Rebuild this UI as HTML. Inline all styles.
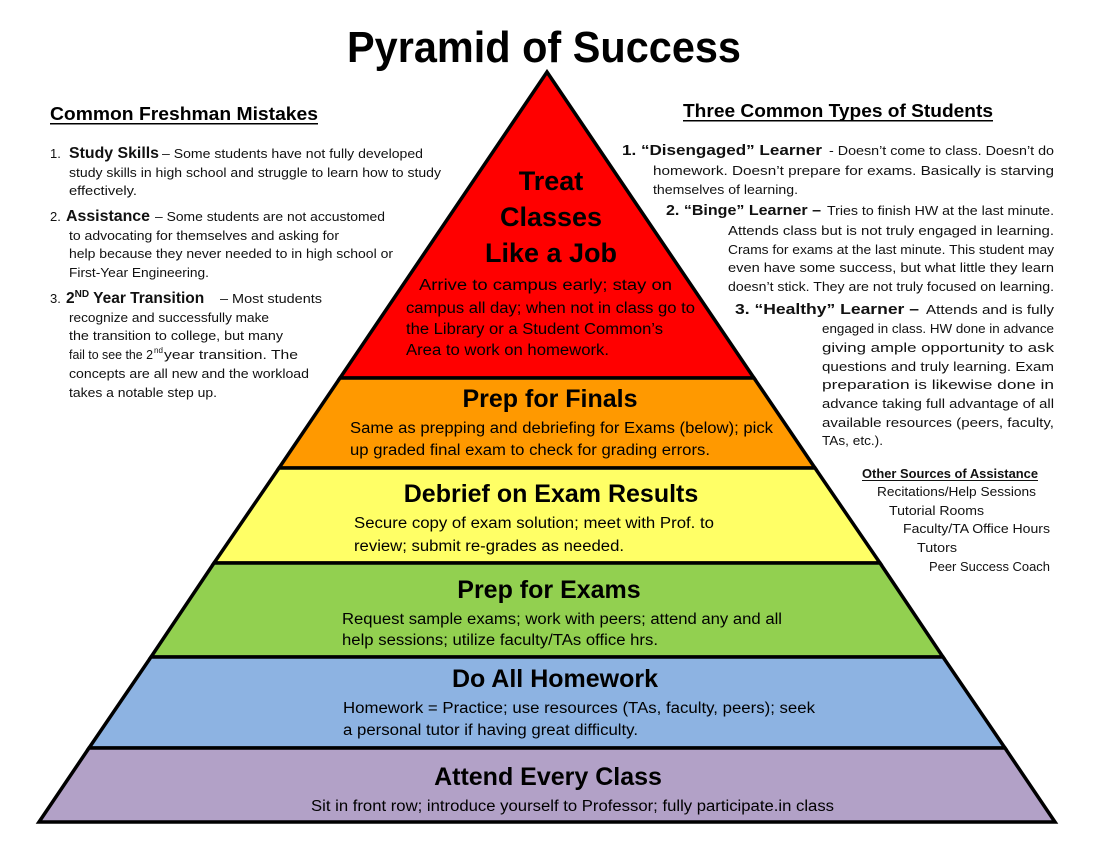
<!DOCTYPE html>
<html><head><meta charset="utf-8"><style>
html,body{margin:0;padding:0;background:#fff}
svg{display:block}
.c{font-family:"Liberation Sans",sans-serif;font-size:13px;fill:#111}
.a{font-family:"Liberation Sans",sans-serif;fill:#000}
</style></head><body>
<svg width="1099" height="849" viewBox="0 0 1099 849" xmlns="http://www.w3.org/2000/svg">
<g stroke="#000" stroke-width="3.5" stroke-linejoin="miter">
<polygon points="547,72 754,378 340,378" fill="#ff0000"/>
<polygon points="340,378 754,378 815,468 279,468" fill="#ff9900"/>
<polygon points="279,468 815,468 880,563 214,563" fill="#ffff66"/>
<polygon points="214,563 880,563 943,657 151,657" fill="#92d050"/>
<polygon points="151,657 943,657 1005,748 89,748" fill="#8db3e2"/>
<polygon points="89,748 1005,748 1055,822 39,822" fill="#b2a1c7"/>
</g>
<text class="a" x="347" y="62" font-size="44" font-weight="bold" textLength="394" lengthAdjust="spacingAndGlyphs">Pyramid of Success</text>

<g class="a" font-weight="bold" text-anchor="middle">
<text x="551" y="190" font-size="27">Treat</text>
<text x="551" y="226" font-size="27">Classes</text>
<text x="551" y="262" font-size="27">Like a Job</text>
<text x="550" y="407" font-size="25">Prep for Finals</text>
<text x="551" y="502" font-size="25">Debrief on Exam Results</text>
<text x="549" y="598" font-size="25">Prep for Exams</text>
<text x="555" y="687" font-size="25">Do All Homework</text>
<text x="548" y="785" font-size="25">Attend Every Class</text>
</g>
<g class="a" font-size="15.5">
<text x="419" y="290" textLength="253" lengthAdjust="spacingAndGlyphs">Arrive to campus early; stay on</text>
<text x="406" y="313" textLength="289" lengthAdjust="spacingAndGlyphs">campus all day; when not in class go to</text>
<text x="406" y="334" textLength="257" lengthAdjust="spacingAndGlyphs">the Library or a Student Common’s</text>
<text x="406" y="355" textLength="203" lengthAdjust="spacingAndGlyphs">Area to work on homework.</text>
<text x="350" y="433" textLength="423" lengthAdjust="spacingAndGlyphs">Same as prepping and debriefing for Exams (below); pick</text>
<text x="350" y="455" textLength="360" lengthAdjust="spacingAndGlyphs">up graded final exam to check for grading errors.</text>
<text x="354" y="528" textLength="360" lengthAdjust="spacingAndGlyphs">Secure copy of exam solution; meet with Prof. to</text>
<text x="354" y="551" textLength="270" lengthAdjust="spacingAndGlyphs">review; submit re-grades as needed.</text>
<text x="342" y="624" textLength="440" lengthAdjust="spacingAndGlyphs">Request sample exams; work with peers; attend any and all</text>
<text x="342" y="645" textLength="316" lengthAdjust="spacingAndGlyphs">help sessions; utilize faculty/TAs office hrs.</text>
<text x="343" y="713" textLength="472" lengthAdjust="spacingAndGlyphs">Homework = Practice; use resources (TAs, faculty, peers); seek</text>
<text x="343" y="735" textLength="295" lengthAdjust="spacingAndGlyphs">a personal tutor if having great difficulty.</text>
<text x="311" y="811" textLength="523" lengthAdjust="spacingAndGlyphs">Sit in front row; introduce yourself to Professor; fully participate.in class</text>
</g>

<text class="a" x="50" y="120" font-size="18" font-weight="bold" textLength="268" lengthAdjust="spacingAndGlyphs">Common Freshman Mistakes</text>
<rect x="50" y="123" width="268" height="1.5" fill="#000"/>
<g class="c">
<text x="50" y="158">1.</text>
<text x="69" y="158" font-size="15.5" font-weight="bold" textLength="90" lengthAdjust="spacingAndGlyphs">Study Skills</text>
<text x="162" y="158" textLength="261" lengthAdjust="spacingAndGlyphs">– Some students have not fully developed</text>
<text x="69" y="177" textLength="372" lengthAdjust="spacingAndGlyphs">study skills in high school and struggle to learn how to study</text>
<text x="69" y="195" textLength="68" lengthAdjust="spacingAndGlyphs">effectively.</text>
<text x="50" y="221">2.</text>
<text x="66" y="221" font-size="15.5" font-weight="bold" textLength="84" lengthAdjust="spacingAndGlyphs">Assistance</text>
<text x="155" y="221" textLength="230" lengthAdjust="spacingAndGlyphs">– Some students are not accustomed</text>
<text x="69" y="240" textLength="270" lengthAdjust="spacingAndGlyphs">to advocating for themselves and asking for</text>
<text x="69" y="258" textLength="324" lengthAdjust="spacingAndGlyphs">help because they never needed to in high school or</text>
<text x="69" y="277" textLength="140" lengthAdjust="spacingAndGlyphs">First-Year Engineering.</text>
<text x="50" y="303">3.</text>
<text x="66" y="303" font-size="15.5" font-weight="bold">2<tspan font-size="10" dy="-6">ND</tspan><tspan dy="6"> Year Transition</tspan></text>
<text x="220" y="303" textLength="102" lengthAdjust="spacingAndGlyphs">– Most students</text>
<text x="69" y="322" textLength="200" lengthAdjust="spacingAndGlyphs">recognize and successfully make</text>
<text x="69" y="340" textLength="214" lengthAdjust="spacingAndGlyphs">the transition to college, but many</text>
<text x="69" y="359" textLength="84" lengthAdjust="spacingAndGlyphs">fail to see the 2</text>
<text x="154" y="353" font-size="8">nd</text>
<text x="164" y="359" textLength="134" lengthAdjust="spacingAndGlyphs">year transition. The</text>
<text x="69" y="378" textLength="240" lengthAdjust="spacingAndGlyphs">concepts are all new and the workload</text>
<text x="69" y="397" textLength="148" lengthAdjust="spacingAndGlyphs">takes a notable step up.</text>
</g>

<text class="a" x="683" y="117" font-size="18" font-weight="bold" textLength="310" lengthAdjust="spacingAndGlyphs">Three Common Types of Students</text>
<rect x="683" y="120" width="310" height="1.5" fill="#000"/>
<g class="c">
<text x="622" y="155" font-size="14.5" font-weight="bold" textLength="200" lengthAdjust="spacingAndGlyphs">1. “Disengaged” Learner</text>
<text x="829" y="155" textLength="225" lengthAdjust="spacingAndGlyphs">- Doesn’t come to class. Doesn’t do</text>
<text x="653" y="175" textLength="401" lengthAdjust="spacingAndGlyphs">homework.  Doesn’t prepare for exams.  Basically is starving</text>
<text x="653" y="194" textLength="145" lengthAdjust="spacingAndGlyphs">themselves of learning.</text>
<text x="666" y="215" font-size="14.5" font-weight="bold" textLength="155" lengthAdjust="spacingAndGlyphs">2. “Binge” Learner –</text>
<text x="827" y="215" textLength="227" lengthAdjust="spacingAndGlyphs">Tries to finish HW at the last minute.</text>
<text x="728" y="235" textLength="326" lengthAdjust="spacingAndGlyphs">Attends class but is not truly engaged in learning.</text>
<text x="728" y="254" textLength="326" lengthAdjust="spacingAndGlyphs">Crams for exams at the last minute.  This student may</text>
<text x="728" y="272" textLength="326" lengthAdjust="spacingAndGlyphs">even have some success, but what little they learn</text>
<text x="728" y="291" textLength="326" lengthAdjust="spacingAndGlyphs">doesn’t stick.  They are not truly focused on learning.</text>
<text x="735" y="314" font-size="14.5" font-weight="bold" textLength="184" lengthAdjust="spacingAndGlyphs">3. “Healthy” Learner –</text>
<text x="926" y="314" textLength="128" lengthAdjust="spacingAndGlyphs">Attends and is fully</text>
<text x="822" y="333" textLength="232" lengthAdjust="spacingAndGlyphs">engaged in class. HW done in advance</text>
<text x="822" y="352" textLength="232" lengthAdjust="spacingAndGlyphs">giving ample opportunity to ask</text>
<text x="822" y="371" textLength="232" lengthAdjust="spacingAndGlyphs">questions and truly learning. Exam</text>
<text x="822" y="389" textLength="232" lengthAdjust="spacingAndGlyphs">preparation is likewise done in</text>
<text x="822" y="408" textLength="232" lengthAdjust="spacingAndGlyphs">advance taking full advantage of all</text>
<text x="822" y="427" textLength="232" lengthAdjust="spacingAndGlyphs">available resources (peers, faculty,</text>
<text x="822" y="445" textLength="61" lengthAdjust="spacingAndGlyphs">TAs, etc.).</text>
<text x="862" y="478" font-weight="bold" textLength="176" lengthAdjust="spacingAndGlyphs">Other Sources of Assistance</text>
<rect x="862" y="480" width="176" height="1" fill="#111"/>
<text x="877" y="496" textLength="159" lengthAdjust="spacingAndGlyphs">Recitations/Help Sessions</text>
<text x="889" y="515" textLength="95" lengthAdjust="spacingAndGlyphs">Tutorial Rooms</text>
<text x="903" y="533" textLength="147" lengthAdjust="spacingAndGlyphs">Faculty/TA Office Hours</text>
<text x="917" y="552" textLength="40" lengthAdjust="spacingAndGlyphs">Tutors</text>
<text x="929" y="571" textLength="121" lengthAdjust="spacingAndGlyphs">Peer Success Coach</text>
</g>
</svg>
</body></html>
